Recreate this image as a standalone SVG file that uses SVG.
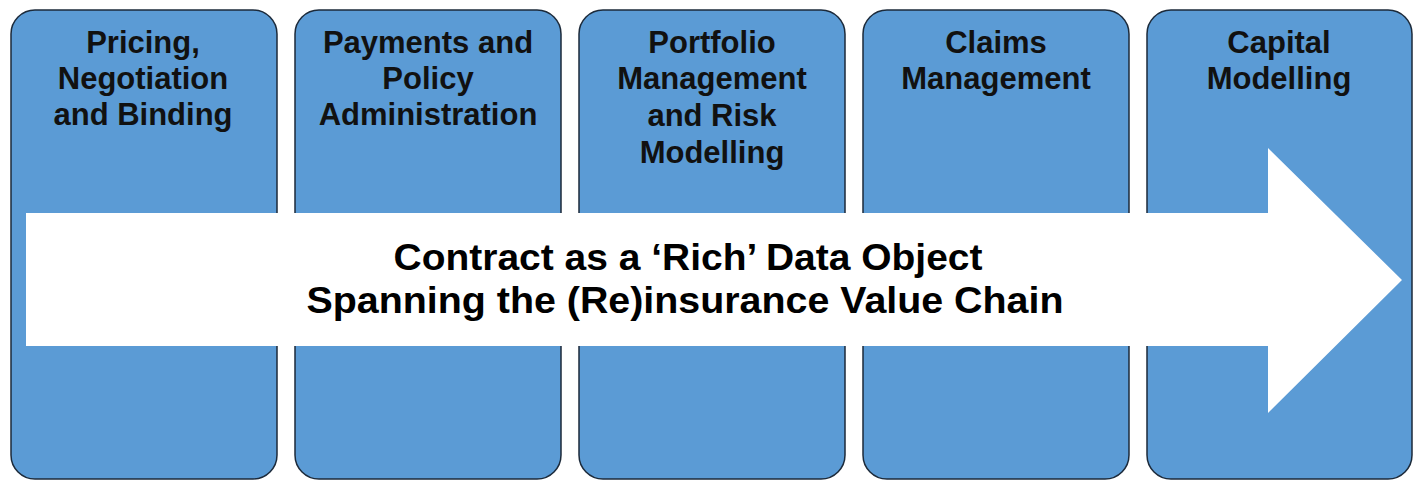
<svg xmlns="http://www.w3.org/2000/svg" width="1418" height="480" viewBox="0 0 1418 480">
  <style>
    .box { fill: #5B9BD5; stroke: #1C2A3A; stroke-width: 1.5; }
    .lbl { font-family: "Liberation Sans", Arial, sans-serif; font-weight: bold; font-size: 31px; fill: #111111; text-anchor: middle; }
    .main { font-family: "Liberation Sans", Arial, sans-serif; font-weight: bold; font-size: 36px; fill: #000000; text-anchor: middle; }
  </style>
  <rect width="1418" height="480" fill="#FFFFFF"/>
  <g id="node-pricing">
    <rect class="box" x="11" y="10" width="266" height="469" rx="24" ry="24"/>
    <text class="lbl" x="143" y="53">Pricing,</text>
    <text class="lbl" x="143" y="89">Negotiation</text>
    <text class="lbl" x="143" y="125">and Binding</text>
  </g>
  <g id="node-payments">
    <rect class="box" x="295" y="10" width="266" height="469" rx="24" ry="24"/>
    <text class="lbl" x="428" y="53">Payments and</text>
    <text class="lbl" x="428" y="89">Policy</text>
    <text class="lbl" x="428" y="125">Administration</text>
  </g>
  <g id="node-portfolio">
    <rect class="box" x="579" y="10" width="266" height="469" rx="24" ry="24"/>
    <text class="lbl" x="712" y="53">Portfolio</text>
    <text class="lbl" x="712" y="89">Management</text>
    <text class="lbl" x="712" y="126">and Risk</text>
    <text class="lbl" x="712" y="163">Modelling</text>
  </g>
  <g id="node-claims">
    <rect class="box" x="863" y="10" width="266" height="469" rx="24" ry="24"/>
    <text class="lbl" x="996" y="53">Claims</text>
    <text class="lbl" x="996" y="89">Management</text>
  </g>
  <g id="node-capital">
    <rect class="box" x="1147" y="10" width="265" height="469" rx="24" ry="24"/>
    <text class="lbl" x="1279" y="53">Capital</text>
    <text class="lbl" x="1279" y="89">Modelling</text>
  </g>
  <g id="connectors">
    <polygon id="value-chain-arrow" points="26,213 1268,213 1268,148 1402,280 1268,413 1268,346 26,346" fill="#FFFFFF"/>
    <text class="main" x="688" y="270" textLength="589" lengthAdjust="spacingAndGlyphs">Contract as a ‘Rich’ Data Object</text>
    <text class="main" x="685" y="313" textLength="757" lengthAdjust="spacingAndGlyphs">Spanning the (Re)insurance Value Chain</text>
  </g>
</svg>
